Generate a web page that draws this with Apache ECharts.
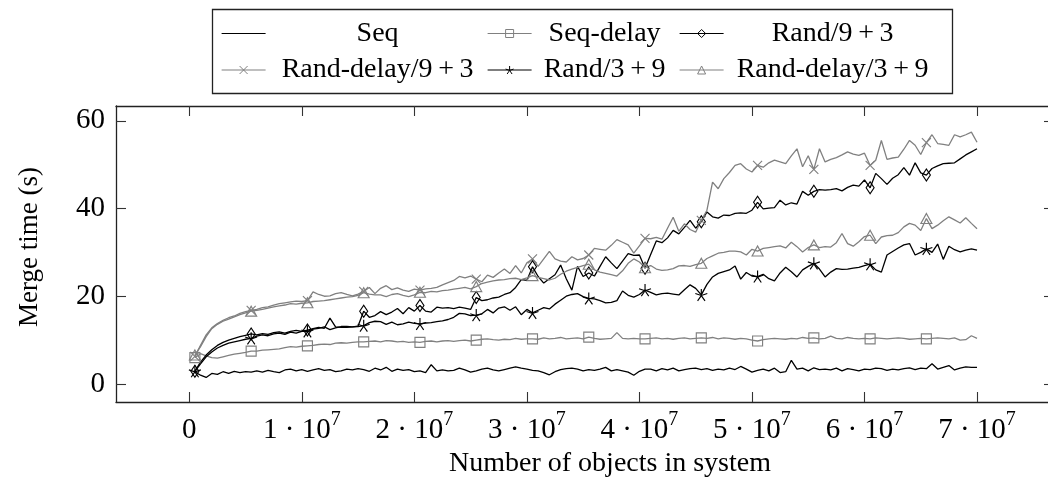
<!DOCTYPE html>
<html><head><meta charset="utf-8">
<script src="https://cdn.jsdelivr.net/npm/echarts@6/dist/echarts.min.js"></script>
<style>html,body{margin:0;padding:0;background:#fff}#c{width:1048px;height:477px}</style>
</head><body><div id="c"></div>
<script>
// sample spacing along the x axis (objects in system)
const step = 5e5;

const seq = [
2.8,2.0,1.5,2.4,2.2,2.8,2.4,2.9,2.6,2.8,
2.7,3.0,2.7,3.1,2.8,2.6,3.2,3.4,3.0,3.3,
2.9,3.2,3.5,3.1,3.3,2.8,3.0,3.4,3.2,3.5,
3.3,2.9,3.6,3.2,3.8,2.9,3.4,3.1,3.3,2.8,
3.0,2.6,4.4,3.0,3.2,3.0,3.1,3.6,3.2,2.7,
3.0,3.4,3.6,3.2,3.0,3.3,3.6,3.9,3.6,3.4,
3.1,3.0,2.6,2.1,2.8,3.3,3.5,3.6,3.4,3.0,
3.3,3.1,3.4,3.8,3.0,3.3,3.0,2.7,2.0,2.9,
3.4,3.4,3.0,3.5,3.2,3.6,3.0,3.3,3.5,3.6,
3.3,3.5,3.1,3.4,3.2,3.6,3.3,4.0,3.4,2.7,
3.1,3.4,3.0,3.6,2.6,2.8,5.4,3.4,3.6,3.0,
3.7,3.3,3.4,3.2,3.6,3.0,3.5,3.3,3.0,3.4,
3.3,3.6,3.5,3.1,3.4,3.2,3.5,3.7,3.3,3.6,
3.5,4.6,3.4,3.8,4.2,3.2,3.6,3.9,3.8,3.8];

const seqDelay = [
6.0,6.9,6.4,6.0,5.9,6.2,6.5,6.8,7.0,7.2,
7.5,7.5,7.7,7.8,7.9,8.0,8.3,8.5,8.4,8.6,
8.7,8.8,9.0,9.1,9.0,9.3,9.4,9.3,9.5,9.6,
9.6,9.7,9.8,9.6,9.9,9.8,9.6,9.7,9.5,9.6,
9.5,9.7,9.8,9.6,9.8,9.9,9.7,9.9,10.0,9.8,
10.0,10.2,10.3,10.1,10.0,10.2,10.1,10.4,10.2,10.3,
10.3,10.2,10.5,10.3,10.4,10.6,10.3,10.4,10.5,10.3,
10.7,10.4,10.2,10.3,10.4,11.7,10.4,10.3,10.4,10.3,
10.3,10.4,10.5,10.3,10.4,10.2,10.4,10.5,10.3,10.4,
10.5,10.4,10.6,10.3,10.5,10.4,10.2,10.4,10.3,10.0,
9.8,10.1,10.3,10.4,10.3,10.2,10.4,10.3,10.6,10.4,
10.5,10.3,10.4,10.9,10.4,10.3,10.6,10.4,10.3,10.4,
10.3,10.5,10.4,10.3,10.4,10.5,10.4,10.2,10.3,10.4,
10.3,10.4,10.5,10.4,10.3,10.5,10.0,10.1,11.0,10.4];

const rand93 = [
2.9,5.0,6.6,7.8,8.8,9.5,10.0,10.4,10.8,11.1,
11.4,11.2,11.5,11.3,11.7,11.9,11.6,12.0,12.2,12.0,
12.3,12.6,12.9,12.7,15.0,13.0,12.9,12.9,13.0,13.2,
16.6,15.2,15.6,16.5,15.8,16.4,17.2,16.0,17.4,16.6,
17.9,16.6,16.4,17.5,17.3,17.4,17.2,17.5,17.3,17.0,
19.7,19.0,19.2,19.6,19.8,20.4,20.8,22.0,23.8,23.6,
26.7,24.5,23.0,24.0,24.9,27.1,24.0,21.4,26.8,24.5,
25.3,24.6,26.8,29.0,27.6,26.3,28.0,29.7,29.3,29.4,
26.4,29.5,32.6,32.2,33.3,35.0,34.2,35.7,37.3,35.5,
37.0,39.2,38.1,37.8,38.5,38.4,38.9,39.0,38.9,39.6,
41.4,39.9,40.1,40.2,41.9,40.8,41.3,41.0,43.9,43.0,
43.9,44.3,44.2,44.3,44.5,44.0,44.8,45.3,45.1,46.5,
44.7,48.0,46.8,45.5,46.9,47.7,49.3,47.6,50.4,48.1,
47.6,49.1,49.7,50.2,50.3,50.4,51.3,52.2,52.9,53.6];

const randDelay93 = [
6.3,8.8,11.2,12.8,13.8,14.5,15.1,15.5,16.1,16.5,
16.8,17.0,17.4,17.6,18.0,18.3,18.5,18.7,18.9,18.8,
19.0,21.0,20.4,20.0,20.1,20.6,20.8,20.4,20.1,20.5,
21.1,22.0,20.6,21.8,22.4,21.5,21.9,21.4,21.1,21.6,
21.4,21.7,21.8,22.0,22.6,23.1,23.6,24.5,24.2,24.6,
23.9,23.3,24.8,24.3,25.3,26.2,25.2,27.0,25.3,27.6,
28.5,26.8,28.5,30.2,28.5,28.0,27.8,29.0,28.3,28.6,
29.4,30.9,30.7,30.5,31.6,32.9,32.3,31.7,29.8,31.5,
33.2,33.1,33.4,33.0,35.5,38.0,34.8,36.5,35.2,34.6,
37.3,39.6,46.0,44.5,46.8,48.2,49.8,50.2,49.0,48.3,
49.8,49.4,50.4,51.0,50.6,50.2,52.0,53.6,49.5,52.0,
48.9,53.6,50.6,51.2,51.6,52.2,52.9,52.4,52.1,52.6,
49.8,51.0,55.5,51.2,51.5,51.7,53.5,55.5,54.4,52.3,
55.0,56.8,54.8,54.6,54.4,56.8,56.3,56.8,57.4,55.1];

const rand39 = [
2.9,4.6,6.2,7.3,8.2,8.8,9.3,9.6,9.9,10.2,
10.4,10.9,11.2,11.0,11.4,11.6,11.3,11.8,11.6,12.0,
12.0,12.5,12.7,13.0,12.4,12.8,13.1,13.1,13.0,13.1,
13.3,14.0,14.3,14.2,13.6,14.1,13.5,13.7,14.1,13.8,
13.7,13.9,14.0,14.2,14.4,14.7,15.2,16.1,16.0,15.6,
15.7,16.0,17.0,16.2,17.3,17.6,16.8,17.6,15.8,17.0,
16.2,16.8,17.4,17.1,18.2,19.1,20.0,20.4,20.6,19.9,
19.5,19.4,19.0,18.5,18.6,19.0,21.2,20.2,19.8,20.4,
21.4,20.9,20.3,20.6,20.7,20.5,20.3,21.5,22.6,21.8,
20.3,22.7,24.4,25.2,25.6,26.0,26.9,23.9,25.4,24.6,
24.5,25.0,24.0,23.5,25.3,26.6,25.6,24.4,26.0,26.8,
27.5,26.2,24.4,25.5,26.3,26.1,26.2,26.4,26.6,27.0,
27.3,26.0,25.5,29.4,30.2,31.0,31.7,32.0,29.4,30.0,
30.8,30.0,31.9,28.4,31.4,30.6,30.1,30.5,30.8,30.5];

const randDelay39 = [
6.6,8.5,10.8,12.6,13.6,14.3,14.8,15.3,15.8,16.2,
16.6,16.8,17.0,17.3,17.6,17.8,18.0,18.3,18.2,18.4,
18.5,18.8,18.9,19.0,19.2,19.4,19.6,19.8,19.9,20.2,
20.8,20.5,20.3,20.3,19.9,20.4,20.6,20.2,19.9,20.3,
20.9,20.8,21.1,21.0,21.3,21.4,21.6,21.8,22.0,21.7,
22.2,22.9,23.2,23.5,23.7,23.8,24.0,24.1,23.8,24.2,
24.7,24.3,24.0,23.7,24.1,25.0,25.7,26.2,26.6,27.0,
27.3,26.0,25.5,25.2,24.9,24.6,25.8,27.5,28.5,27.8,
26.5,27.0,26.2,25.9,26.0,26.3,26.9,27.0,26.8,27.2,
27.5,28.6,29.2,29.8,30.0,30.3,30.3,30.1,29.4,30.7,
30.3,30.9,31.1,31.3,31.5,31.0,32.3,31.3,30.1,31.1,
31.7,31.1,31.3,31.2,32.2,34.3,32.0,31.4,32.4,33.6,
33.9,32.0,33.5,33.8,33.9,34.5,35.8,36.6,36.2,35.0,
37.7,35.4,36.2,37.2,38.1,37.4,36.7,37.9,36.6,35.4];

const seriesNames = ['Seq','Seq-delay','Rand/9+3','Rand-delay/9+3','Rand/3+9','Rand-delay/3+9'];
const xTicks = [0,1e7,2e7,3e7,4e7,5e7,6e7,7e7];
const xTickLabels = ['0','1·10^7','2·10^7','3·10^7','4·10^7','5·10^7','6·10^7','7·10^7'];
const yTicks = [0,20,40,60];

const FONT = '"Liberation Serif","DejaVu Serif",serif';
const BLACK = '#000', GRAY = '#808080';
const XMIN = -6.51e6, XMAX = 7.684e7, YMIN = -4.1, YMAX = 63.35;
const TICK_LEN = 10;

function pts(arr){ return arr.map((v,i)=>[(i+1)*step, v]); }
const markEvery = 10;
function sz(s){ return (v,p) => (p.dataIndex % markEvery === 0 ? s : 0); }

const STAR = 'path://M50,50L50,0M50,50L2.45,34.55M50,50L20.6,90.45M50,50L79.4,90.45M50,50L97.55,34.55';
const CROSS = 'path://M0,0L10,10M10,0L0,10';

function mk(name, data, color, symbol, size){
  return {
    name, type:'line', data: pts(data),
    symbol: symbol || 'none',
    symbolSize: symbol ? sz(size) : 0,
    showSymbol: !!symbol,
    lineStyle:{color, width:1.3},
    itemStyle:{color:'none', borderColor: symbol ? color : 'none', borderWidth: symbol ? 1.15 : 0},
    emphasis:{disabled:true},
    animation:false, clip:true
  };
}

const tickLineStyle = {stroke:'#333', lineWidth:1.1};

// tick marks drawn through the axis scales (inside, on all four sides)
const xTickSeries = {
  type:'custom', name:'_xticks', silent:true, clip:false, z:5,
  data: xTicks.map(v => [v, YMIN]),
  renderItem: (params, api) => {
    const b = api.coord([api.value(0), YMIN]);
    const t = api.coord([api.value(0), YMAX]);
    const x = Math.round(b[0]) + 0.5;
    return {type:'group', children:[
      {type:'line', shape:{x1:x, y1:b[1], x2:x, y2:b[1]-TICK_LEN}, style:tickLineStyle},
      {type:'line', shape:{x1:x, y1:t[1], x2:x, y2:t[1]+TICK_LEN}, style:tickLineStyle}
    ]};
  }
};
const yTickSeries = {
  type:'custom', name:'_yticks', silent:true, clip:false, z:5,
  data: yTicks.map(v => [XMIN, v]),
  renderItem: (params, api) => {
    const l = api.coord([XMIN, api.value(1)]);
    const r = api.coord([XMAX, api.value(1)]);
    const y = Math.round(l[1]) + 0.5;
    return {type:'group', children:[
      {type:'line', shape:{x1:l[0], y1:y, x2:l[0]+TICK_LEN, y2:y}, style:tickLineStyle},
      {type:'line', shape:{x1:r[0], y1:y, x2:r[0]-TICK_LEN, y2:y}, style:tickLineStyle}
    ]};
  }
};

const series = [
  mk(seriesNames[0], seq, BLACK, null, 0),
  mk(seriesNames[1], seqDelay, GRAY, 'rect', 10),
  mk(seriesNames[2], rand93, BLACK, 'diamond', [8,12]),
  mk(seriesNames[3], randDelay93, GRAY, CROSS, 9),
  mk(seriesNames[4], rand39, BLACK, STAR, 12),
  mk(seriesNames[5], randDelay39, GRAY, 'triangle', [11,10]),
  xTickSeries, yTickSeries
];

const legendCols = [{left:221,w:214},{left:487,w:136},{left:679,w:208}];
const legendRows = [19.5, 56];
const legends = seriesNames.map((n,i)=>{
  const c = legendCols[i%3], r = legendRows[Math.floor(i/3)];
  return {
    data:[i===0 ? {name:n, itemStyle:{opacity:0}} : n],
    left:c.left, top:r, padding:0, itemWidth:44, itemHeight:10, itemGap:0,
    selectedMode:false,
    itemStyle:{borderWidth:1},
    lineStyle:{width:1.2},
    formatter: nm => '{t|' + nm.replace('+','\u2009+\u2009') + '}',
    textStyle:{rich:{t:{width:c.w, align:'center', fontSize:28, fontFamily:FONT, color:'#000', lineHeight:32}}}
  };
});

const lineSt = {color:'#222', width:1.3};

const option = {
  animation:false,
  backgroundColor:'#fff',
  grid:{left:116, top:106, width:938, bottom:75, containLabel:false, outerBoundsMode:'none'},
  legend: legends,
  graphic:[{type:'rect', silent:true, shape:{x:212.5, y:9.5, width:740, height:84}, style:{fill:'none', stroke:'#222', lineWidth:1.3}}],
  xAxis:[
    {type:'value', position:'bottom', min:XMIN, max:XMAX,
     axisLine:{show:true, onZero:false, lineStyle:lineSt},
     axisTick:{show:false},
     axisLabel:{show:true, customValues:xTicks, margin:8,
       formatter: v => {
         const s = xTickLabels[xTicks.indexOf(v)];
         const p = s.split('^');
         return p.length > 1 ? '{n|' + p[0].replace('·',' \u00B7 ') + '}{s|' + p[1] + '}' : '{n|' + s + '}';
       },
       rich:{
         n:{fontSize:29, fontFamily:FONT, color:'#000', lineHeight:30, padding:[10,0,0,0]},
         s:{fontSize:20, fontFamily:FONT, color:'#000', lineHeight:20, padding:[0,0,20,0], verticalAlign:'top'}
       }},
     splitLine:{show:false},
     name:'Number of objects in system', nameLocation:'middle', nameGap:48, nameMoveOverlap:false,
     nameTextStyle:{fontSize:28, fontFamily:FONT, color:'#000', padding:[0,0,0,50]}
    },
    {type:'value', position:'top', min:XMIN, max:XMAX,
     axisLine:{show:true, onZero:false, lineStyle:lineSt},
     axisTick:{show:false}, axisLabel:{show:false}, splitLine:{show:false}}
  ],
  yAxis:[
    {type:'value', position:'left', min:YMIN, max:YMAX,
     axisLine:{show:true, onZero:false, lineStyle:lineSt},
     axisTick:{show:false},
     axisLabel:{show:true, customValues:yTicks, margin:11, fontSize:29, fontFamily:FONT, color:'#000'},
     splitLine:{show:false},
     name:'Merge time (s)', nameLocation:'middle', nameRotate:90, nameGap:73, nameMoveOverlap:false,
     nameTextStyle:{fontSize:27, fontFamily:FONT, color:'#000', padding:[0,0,0,14]}
    },
    {type:'value', position:'right', min:YMIN, max:YMAX,
     axisLine:{show:true, onZero:false, lineStyle:lineSt},
     axisTick:{show:false}, axisLabel:{show:false}, splitLine:{show:false}}
  ],
  series
};

const chart = echarts.init(document.getElementById('c'), null, {renderer:'canvas'});
chart.setOption(option);
</script>
</body></html>
